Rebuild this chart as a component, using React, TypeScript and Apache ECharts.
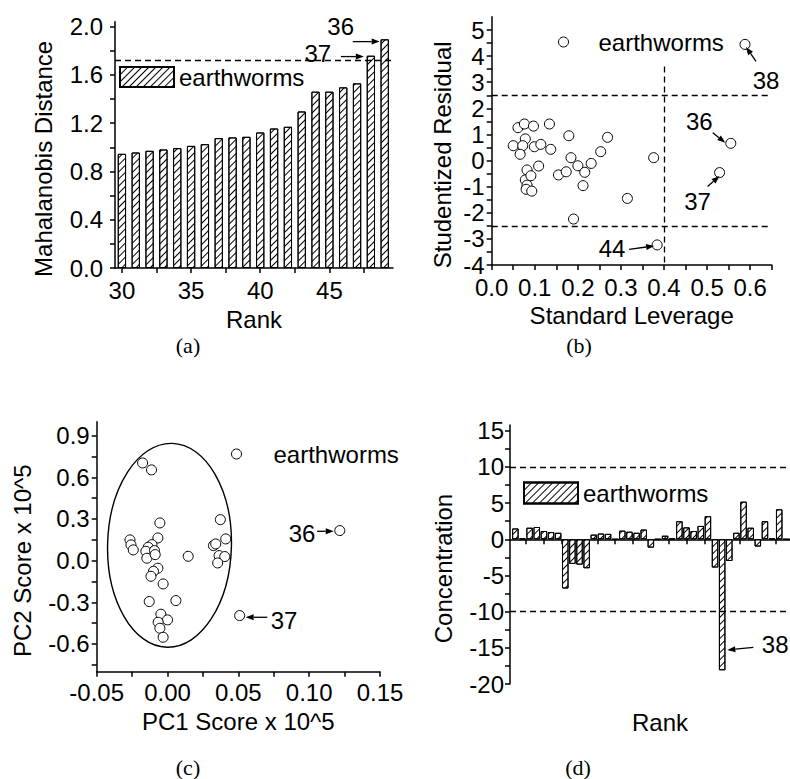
import React, { useEffect, useRef } from "react";
import * as echarts from "echarts";

const FONT = "'Liberation Sans', Arial, sans-serif";
const SERIF = "'Liberation Serif', 'Times New Roman', serif";

// ---------- (a) Mahalanobis distance by rank ----------
const rankA = [30, 31, 32, 33, 34, 35, 36, 37, 38, 39, 40, 41, 42, 43, 44, 45, 46, 47, 48, 49];
const mahalanobis = [0.946, 0.957, 0.971, 0.982, 0.993, 1.012, 1.026, 1.076, 1.082, 1.087, 1.123, 1.156, 1.17, 1.297, 1.461, 1.461, 1.497, 1.53, 1.759, 1.895];
const mahalanobisLimit = 1.715;
const rankATicks = [30, 32.5, 35, 37.5, 40, 42.5, 45, 47.5];
const rankALabels = [30, 35, 40, 45];
const distTicks = [0, 0.2, 0.4, 0.6, 0.8, 1.0, 1.2, 1.4, 1.6, 1.8, 2.0];
const distLabels = [0, 0.4, 0.8, 1.2, 1.6, 2.0];

// ---------- (b) studentized residual vs leverage ----------
const leverage = [0.05, 0.061, 0.076, 0.097, 0.134, 0.078, 0.072, 0.066, 0.099, 0.114, 0.137, 0.109, 0.082, 0.078, 0.082, 0.08, 0.093, 0.091, 0.155, 0.173, 0.179, 0.184, 0.2, 0.216, 0.231, 0.212, 0.253, 0.269, 0.19, 0.315, 0.376, 0.384, 0.555, 0.529, 0.588];
const studentized = [0.57, 1.26, 1.4, 1.32, 1.4, 0.83, 0.57, 0.24, 0.53, 0.62, 0.43, -0.21, -0.36, -0.74, -0.94, -1.1, -1.17, -0.58, -0.55, -0.43, 0.95, 0.11, -0.2, -0.45, -0.11, -0.96, 0.34, 0.89, -2.24, -1.45, 0.11, -3.23, 0.66, -0.46, 4.45];
const residualLimit = 2.5;
const leverageLimit = 0.4;
const leverageLineTop = 3.6;
const levTicks = [0, 0.05, 0.1, 0.15, 0.2, 0.25, 0.3, 0.35, 0.4, 0.45, 0.5, 0.55, 0.6, 0.65];
const levLabels = [0, 0.1, 0.2, 0.3, 0.4, 0.5, 0.6];
const resTicks = [-4, -3.5, -3, -2.5, -2, -1.5, -1, -0.5, 0, 0.5, 1, 1.5, 2, 2.5, 3, 3.5, 4, 4.5, 5];
const resLabels = [-4, -3, -2, -1, 0, 1, 2, 3, 4, 5];

// ---------- (c) PCA scores ----------
const pc1 = [-0.0176, -0.0113, -0.0054, 0.0373, 0.0411, -0.0265, -0.0258, -0.0242, -0.0068, -0.011, -0.0136, -0.0153, -0.0146, -0.0092, -0.0087, 0.0146, 0.0324, 0.034, 0.0364, 0.0404, 0.0354, -0.0068, -0.0099, -0.0117, -0.0031, -0.0129, 0.0059, -0.0047, 0.0, -0.0066, -0.0054, -0.0031, 0.1216, 0.0509];
const pc2 = [0.703, 0.653, 0.271, 0.295, 0.156, 0.149, 0.113, 0.077, 0.163, 0.115, 0.096, 0.067, 0.017, 0.072, 0.043, 0.031, 0.108, 0.12, 0.036, 0.029, -0.017, -0.055, -0.077, -0.113, -0.168, -0.295, -0.288, -0.386, -0.427, -0.444, -0.487, -0.552, 0.216, -0.396];
const pc1Ticks = [-0.05, -0.025, 0, 0.025, 0.05, 0.075, 0.1, 0.125, 0.15];
const pc1Labels = [-0.05, 0, 0.05, 0.1, 0.15];
const pc2Ticks = [-0.75, -0.6, -0.45, -0.3, -0.15, 0, 0.15, 0.3, 0.45, 0.6, 0.75, 0.9];
const pc2Labels = [-0.6, -0.3, 0, 0.3, 0.6, 0.9];
const ellipseCenter = [0.0014, 0.11];
const ellipseRadii = [0.0437, 0.734];

// ---------- (d) concentration by rank ----------
const rankD = [1, 2, 3, 4, 5, 6, 7, 8, 9, 10, 11, 12, 13, 14, 15, 16, 17, 18, 19, 20, 21, 22, 23, 24, 25, 26, 27, 28, 29, 30, 31, 32, 33, 34, 35, 36, 37, 38, 39, 40];
const concentration = [1.5, 0.1, 1.6, 1.7, 1.15, 1.0, 0.9, -6.8, -3.4, -3.5, -4.0, 0.65, 0.8, 0.75, 0, 1.2, 1.05, 0.9, 1.35, -1.15, 0, 0.5, 0.1, 2.5, 1.65, 1.15, 1.85, 3.2, -3.9, -18.1, -3.0, 0.9, 5.2, 1.6, -1.0, 2.5, 0.1, 4.15, 0, 2.6];
const concLimit = 10;
const rankDTicks = [2.5, 5, 7.5, 10, 12.5, 15, 17.5, 20, 22.5, 25, 27.5, 30, 32.5, 35, 37.5, 40, 42.5, 45, 47.5];
const concTicks = [-20, -17.5, -15, -12.5, -10, -7.5, -5, -2.5, 0, 2.5, 5, 7.5, 10, 12.5, 15];
const concLabels = [-20, -15, -10, -5, 0, 5, 10, 15];

// annotations: anchor in data coords, offsets in px
const annotations = [
  { grid: 0, at: [49, 1.876], tip: [-5, 0], tail: [-32, 0], text: "36", label: [-44, -15] },
  { grid: 0, at: [48, 1.752], tip: [-7, 0], tail: [-30, 0], text: "37", label: [-53, -3] },
  { grid: 1, at: [0.588, 4.45], tip: [1, 2.5], tail: [11, 17], text: "38", label: [21, 36] },
  { grid: 1, at: [0.555, 0.66], tip: [-5.5, -0.6], tail: [-18, -10.6], text: "36", label: [-31.5, -21.6] },
  { grid: 1, at: [0.529, -0.46], tip: [0, 3.5], tail: [-12, 14], text: "37", label: [-22, 29] },
  { grid: 1, at: [0.384, -3.23], tip: [-3, 1], tail: [-28, 4.5], text: "44", label: [-45, 3.5] },
  { grid: 2, at: [0.1216, 0.216], tip: [-6, 0.7], tail: [-22.7, 0.7], text: "36", label: [-37.7, 3.3] },
  { grid: 2, at: [0.0509, -0.396], tip: [6, 1.7], tail: [27.7, 1.7], text: "37", label: [44.4, 5] },
  { grid: 3, at: [30, -15], tip: [5.2, 2.2], tail: [31.2, -0.5], text: "38", label: [53, -3] },
];

const captions = [
  { text: "(a)", x: 188, y: 345 },
  { text: "(b)", x: 579, y: 345 },
  { text: "(c)", x: 188, y: 767 },
  { text: "(d)", x: 578, y: 767 },
];

const hatch = {
  symbol: "rect",
  symbolSize: 1,
  dashArrayX: [1, 0],
  dashArrayY: [1, 3.5],
  rotation: -Math.PI / 4,
  color: "#000",
  backgroundColor: "#fff",
};

const lineStyle = { color: "#000", width: 1.5 };

function valueAxis(opts: any) {
  const { min, max, ticks, labels, fmt, grid, name, nameGap, margin, onZero, vertical } = opts;
  return {
    type: "value",
    gridIndex: grid,
    min,
    max,
    name,
    nameLocation: "middle",
    nameGap,
    nameTextStyle: {
      fontSize: 24,
      fontFamily: FONT,
      color: "#000",
      padding: vertical ? [0, 28, 0, 0] : 0,
    },
    axisLine: { show: true, onZero: !!onZero, lineStyle },
    axisTick: { show: true, inside: false, length: 5, lineStyle, customValues: ticks },
    axisLabel: {
      show: !!labels,
      customValues: labels || [],
      margin,
      color: "#000",
      fontSize: 24,
      fontFamily: FONT,
      formatter: (v: number) => fmt(v),
    },
    splitLine: { show: false },
  };
}

function arrow(tail: number[], tip: number[]) {
  const dx = tip[0] - tail[0];
  const dy = tip[1] - tail[1];
  const len = Math.hypot(dx, dy) || 1;
  const ux = dx / len;
  const uy = dy / len;
  const hl = 8;
  const hw = 3;
  const bx = tip[0] - ux * hl;
  const by = tip[1] - uy * hl;
  return [
    { type: "line", silent: true, z: 10, shape: { x1: tail[0], y1: tail[1], x2: bx, y2: by }, style: { stroke: "#000", lineWidth: 1.3 } },
    {
      type: "polygon",
      silent: true,
      z: 10,
      shape: { points: [[tip[0], tip[1]], [bx - uy * hw, by + ux * hw], [bx + uy * hw, by - ux * hw]] },
      style: { fill: "#000" },
    },
  ];
}

export default function App() {
  const ref = useRef<HTMLDivElement>(null);

  useEffect(() => {
    if (!ref.current) return;
    const chart = echarts.init(ref.current, null, { renderer: "svg" });
    const legendText = { fontSize: 24, fontFamily: FONT, color: "#000" };
    const dashed = { type: [6, 4], color: "#000", width: 1.3 };
    const scatterStyle = { color: "#fff", borderColor: "#000", borderWidth: 1, opacity: 1 };

    const option: any = {
      animation: false,
      backgroundColor: "#fff",
      textStyle: { fontFamily: FONT },
      grid: [
        { left: 115, top: 21.7, width: 278, height: 246.3, outerBoundsMode: "none", containLabel: false },
        { left: 491.7, top: 16.7, width: 280, height: 248.3, outerBoundsMode: "none", containLabel: false },
        { left: 96.7, top: 421.7, width: 283.3, height: 250, outerBoundsMode: "none", containLabel: false },
        { left: 510, top: 425, width: 353, height: 259, outerBoundsMode: "none", containLabel: false },
      ],
      xAxis: [
        valueAxis({ grid: 0, min: 29.5, max: 49.6, ticks: rankATicks, labels: rankALabels, fmt: (v: number) => String(v), name: "Rank", nameGap: 39, margin: 10 }),
        valueAxis({ grid: 1, min: 0, max: 0.65, ticks: levTicks, labels: levLabels, fmt: (v: number) => v.toFixed(1), name: "Standard Leverage", nameGap: 38, margin: 10 }),
        valueAxis({ grid: 2, min: -0.05, max: 0.15, ticks: pc1Ticks, labels: pc1Labels, fmt: (v: number) => v.toFixed(2), name: "PC1 Score x 10^5", nameGap: 38, margin: 9 }),
        valueAxis({ grid: 3, min: 0.25, max: 49.75, ticks: rankDTicks, labels: null, fmt: (v: number) => String(v), name: "", nameGap: 0, margin: 8, onZero: true }),
      ],
      yAxis: [
        valueAxis({ grid: 0, min: 0, max: 2.041, ticks: distTicks, labels: distLabels, fmt: (v: number) => v.toFixed(1), name: "Mahalanobis Distance", nameGap: 60, margin: 12, vertical: true }),
        valueAxis({ grid: 1, min: -4, max: 5.51, ticks: resTicks, labels: resLabels, fmt: (v: number) => String(v), name: "Studentized Residual", nameGap: 37, margin: 7, vertical: true }),
        valueAxis({ grid: 2, min: -0.8, max: 1.0, ticks: pc2Ticks, labels: pc2Labels, fmt: (v: number) => v.toFixed(1), name: "PC2 Score x 10^5", nameGap: 62, margin: 7, vertical: true }),
        valueAxis({ grid: 3, min: -20, max: 15.8, ticks: concTicks, labels: concLabels, fmt: (v: number) => String(v), name: "Concentration", nameGap: 55, margin: 6, vertical: true }),
      ],
      legend: [
        { data: [{ name: "earthworms-a", icon: "rect" }], left: 119, top: 65, padding: 0, itemWidth: 54, itemHeight: 20, selectedMode: false, formatter: () => "earthworms", textStyle: legendText },
        { data: [{ name: "earthworms-b", icon: "circle" }], left: 558, top: 30, padding: 0, itemWidth: 60, itemHeight: 10, selectedMode: false, formatter: () => "earthworms", textStyle: legendText, itemStyle: { borderWidth: 1 } },
        { data: [{ name: "earthworms-c", icon: "circle" }], left: 231, top: 442, padding: 0, itemWidth: 64, itemHeight: 10, selectedMode: false, formatter: () => "earthworms", textStyle: legendText, itemStyle: { borderWidth: 1 } },
        { data: [{ name: "earthworms-d", icon: "rect" }], left: 523, top: 481, padding: 0, itemWidth: 54, itemHeight: 21, selectedMode: false, formatter: () => "earthworms", textStyle: legendText },
      ],
      series: [
        {
          type: "bar",
          name: "earthworms-a",
          xAxisIndex: 0,
          yAxisIndex: 0,
          barWidth: 8.3,
          data: rankA.map((r, i) => [r, mahalanobis[i]]),
          itemStyle: { color: "#fff", borderColor: "#000", borderWidth: 1, decal: hatch },
          markLine: { silent: true, symbol: ["none", "none"], label: { show: false }, lineStyle: dashed, data: [{ yAxis: mahalanobisLimit }] },
        },
        {
          type: "scatter",
          name: "earthworms-b",
          xAxisIndex: 1,
          yAxisIndex: 1,
          symbol: "circle",
          symbolSize: 10,
          data: leverage.map((l, i) => [l, studentized[i]]),
          itemStyle: scatterStyle,
          markLine: {
            silent: true,
            symbol: ["none", "none"],
            label: { show: false },
            lineStyle: dashed,
            data: [
              { yAxis: residualLimit },
              { yAxis: -residualLimit },
              [{ coord: [leverageLimit, leverageLineTop] }, { coord: [leverageLimit, -4] }],
            ],
          },
        },
        {
          type: "scatter",
          name: "earthworms-c",
          xAxisIndex: 2,
          yAxisIndex: 2,
          symbol: "circle",
          symbolSize: 10,
          data: pc1.map((p, i) => [p, pc2[i]]),
          itemStyle: scatterStyle,
          z: 4,
        },
        {
          type: "bar",
          name: "earthworms-d",
          xAxisIndex: 3,
          yAxisIndex: 3,
          barWidth: 6.5,
          data: rankD.map((r, i) => [r, concentration[i]]),
          itemStyle: { color: "#fff", borderColor: "#000", borderWidth: 1, decal: hatch },
          markLine: { silent: true, symbol: ["none", "none"], label: { show: false }, lineStyle: dashed, data: [{ yAxis: concLimit }, { yAxis: -concLimit }] },
        },
      ],
    };
    chart.setOption(option);

    const graphics: any[] = [];
    annotations.forEach((a) => {
      const p = chart.convertToPixel({ gridIndex: a.grid } as any, a.at) as number[];
      const tip = [p[0] + a.tip[0], p[1] + a.tip[1]];
      const tail = [p[0] + a.tail[0], p[1] + a.tail[1]];
      graphics.push(...arrow(tail, tip));
      graphics.push({
        type: "text",
        silent: true,
        z: 10,
        x: p[0] + a.label[0],
        y: p[1] + a.label[1],
        style: { text: a.text, fill: "#000", font: `24px ${FONT}`, align: "center", verticalAlign: "middle" },
      });
    });
    const c = chart.convertToPixel({ gridIndex: 2 } as any, ellipseCenter) as number[];
    const e = chart.convertToPixel({ gridIndex: 2 } as any, [ellipseCenter[0] + ellipseRadii[0], ellipseCenter[1] + ellipseRadii[1]]) as number[];
    graphics.push({
      type: "ellipse",
      silent: true,
      z: 1,
      x: c[0],
      y: c[1],
      rotation: -0.025,
      shape: { cx: 0, cy: 0, rx: Math.abs(e[0] - c[0]), ry: Math.abs(c[1] - e[1]) },
      style: { fill: "none", stroke: "#000", lineWidth: 1.4 },
    });
    // x-axis title of panel (d), which sits well below its zero-crossing axis
    graphics.push({
      type: "text",
      silent: true,
      x: 660,
      y: 722,
      style: { text: "Rank", fill: "#000", font: `24px ${FONT}`, align: "center", verticalAlign: "middle" },
    });
    captions.forEach((cap) => {
      graphics.push({
        type: "text",
        silent: true,
        x: cap.x,
        y: cap.y,
        style: { text: cap.text, fill: "#000", font: `22px ${SERIF}`, align: "center", verticalAlign: "middle" },
      });
    });
    chart.setOption({ graphic: { elements: graphics } });

    return () => chart.dispose();
  }, []);

  return (
    <div
      ref={ref}
      style={{ position: "fixed", left: 0, top: 0, width: 790, height: 779, background: "#fff" }}
    />
  );
}
